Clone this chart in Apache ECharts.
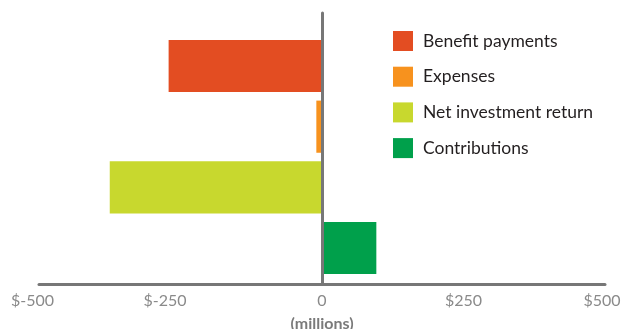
<!DOCTYPE html>
<html>
<head>
<meta charset="utf-8">
<script src="https://cdn.jsdelivr.net/npm/echarts@6/dist/echarts.min.js"></script>
<style>
  html, body { margin: 0; padding: 0; background: #fff; }
  #main { width: 621px; height: 329px; }
</style>
</head>
<body>
<div id="main"></div>
<script>
// flows, in millions
var categories = ["Benefit payments", "Expenses", "Net investment return", "Contributions"];
var values = [-271, -10, -375, 96];
var colors = ["#E34D22", "#F7921E", "#C8D82E", "#00A04B"];
var xTicks = [-500, -250, 0, 250, 500];

var mychart = echarts.init(document.getElementById("main"));

// one series per flow so each gets a legend entry, stacked so they share a band
var series = categories.map(function (name, i) {
  return {
    name: name,
    type: "bar",
    stack: "total",
    xAxisIndex: 0,
    yAxisIndex: 0,
    barWidth: "86%",
    itemStyle: { color: colors[i] },
    data: categories.map(function (c, j) {
      return j === i ? values[i] : "-";
    }),
  };
});

var tickFont = { color: "#8a8a8a", fontSize: 16, fontFamily: "Lato" };

var option = {
  animation: false,
  textStyle: { fontFamily: "Lato" },
  legend: {
    orient: "vertical",
    left: 393,
    top: 31,
    padding: 0,
    itemWidth: 20,
    itemHeight: 20,
    itemGap: 15.7,
    icon: "rect",
    data: categories,
    textStyle: {
      color: "#231f20",
      fontSize: 17.5,
      fontFamily: "Lato",
      padding: [0, 0, 0, 5],
    },
  },
  grid: [
    // bars
    { left: 39, right: 16, top: 35.7, bottom: 50.7, outerBoundsMode: "none" },
    // axis lines
    { left: 39, right: 16, top: 13, bottom: 44.5, outerBoundsMode: "none" },
  ],
  xAxis: [
    {
      gridIndex: 0,
      type: "value",
      min: xTicks[0],
      max: xTicks[xTicks.length - 1],
      show: false,
    },
    {
      gridIndex: 1,
      type: "value",
      min: xTicks[0],
      max: xTicks[xTicks.length - 1],
      interval: 250,
      z: 5,
      axisLine: { show: true, onZero: false, lineStyle: { color: "#777", width: 3 } },
      axisTick: { show: false },
      splitLine: { show: false },
      axisLabel: {
        margin: 8,
        color: "#8a8a8a",
        fontSize: 16,
        fontFamily: "Lato",
        formatter: function (v) {
          if (v === 0) return "0";
          if (v === -500) return "{a|$" + v + "}";
          if (v === -250) return "{b|$" + v + "}";
          if (v === 500) return "{c|$" + v + "}";
          return "$" + v;
        },
        rich: {
          a: Object.assign({ padding: [0, 13, 0, 0] }, tickFont),
          b: Object.assign({ padding: [0, 31, 0, 0] }, tickFont),
          c: Object.assign({ padding: [0, 6, 0, 0] }, tickFont),
        },
      },
      name: "(millions)",
      nameLocation: "middle",
      nameGap: 31,
      nameTextStyle: {
        color: "#7a7a7a",
        fontSize: 16,
        fontWeight: "bold",
        fontFamily: "Lato",
      },
    },
  ],
  yAxis: [
    {
      gridIndex: 0,
      type: "category",
      inverse: true,
      data: categories,
      show: false,
    },
    {
      gridIndex: 1,
      type: "value",
      min: 0,
      max: 1,
      z: 5,
      axisLine: { show: true, onZero: true, lineStyle: { color: "#777", width: 3 } },
      axisTick: { show: false },
      axisLabel: { show: false },
      splitLine: { show: false },
    },
  ],
  series: series,
};

mychart.setOption(option);
mychart.resize();
</script>
</body>
</html>
